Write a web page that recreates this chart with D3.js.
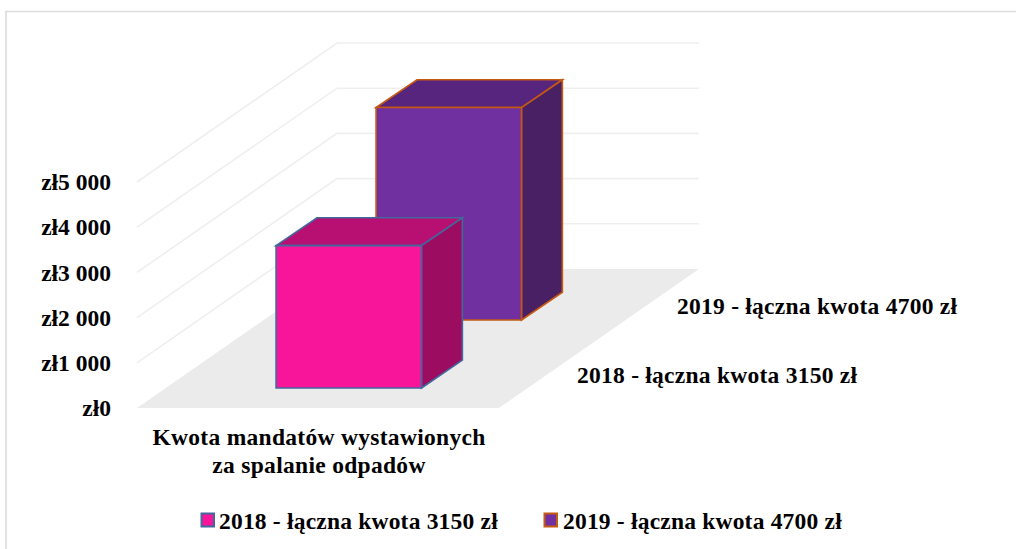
<!DOCTYPE html>
<html><head><meta charset="utf-8">
<script src="https://cdnjs.cloudflare.com/ajax/libs/d3/7.8.5/d3.min.js"></script>
<style>
html,body{margin:0;padding:0;background:#fff}
svg{display:block}
text{font-family:"Liberation Serif",serif;font-weight:700;fill:#000}
</style></head><body>
<svg id="c" width="1016" height="549"></svg>
<script>
const seriesNames = ["2018 - łączna kwota 3150 zł", "2019 - łączna kwota 4700 zł"];
const seriesValues = [3150, 4700];
const categoryLines = ["Kwota mandatów wystawionych", "za spalanie odpadów"];
const yTicks = [0, 1000, 2000, 3000, 4000, 5000];
const fills = ["#F8159A", "#7030A0"];
const topFills = ["#B80F72", "#58257E"];
const sideFills = ["#9C0C60", "#4A2064"];
const strokes = ["#41699E", "#C55A11"];

const svg = d3.select("#c");
const y = d3.scaleLinear().domain([0, 5000]).range([408, 182]);
const x = d3.scaleLinear().domain([0, 1]).range([137, 499]);
const depthX = d3.scaleLinear().domain([0, 1]).range([0, 200]);
const barDepthX = d3.scaleLinear().domain([0, 1]).range([0, 204.5]);
const depthY = d3.scaleLinear().domain([0, 1]).range([0, -139]);
const band = d3.scaleBand().domain(seriesNames).range([0, 0.977]).paddingInner(0.591).paddingOuter(0.2945);
const P = (fx, d, v) => [x(fx) + depthX(d), y(v) + depthY(d)];
const B = (fx, d, v) => [x(fx) + barDepthX(d), y(v) + depthY(d)];
const poly = pts => "M" + pts.map(p => p.join(",")).join("L") + "Z";

// frame: left and top edges only
svg.append("path").attr("d", "M6,549V11.5H1016").attr("fill", "none").attr("stroke", "#DCDCDC").attr("stroke-width", 1.6);

// floor
svg.append("path").attr("d", poly([P(0,0,0),P(1,0,0),P(1,1,0),P(0,1,0)])).attr("fill", "#EBEBEB");

// gridlines
svg.append("g").selectAll("path").data(yTicks.slice(1)).join("path")
  .attr("d", v => "M" + [P(0,0,v),P(0,1,v),P(1,1,v)].map(p => p.join(",")).join("L"))
  .attr("fill", "none").attr("stroke", "#EFEFEF").attr("stroke-width", 1.6);

// boxes, back to front
const x0 = 0.3028, x1 = 0.7045;
[1, 0].forEach(i => {
  const n = seriesNames[i], v = seriesValues[i];
  const d0 = band(n), d1 = d0 + band.bandwidth();
  const g = svg.append("g").attr("stroke", strokes[i]).attr("stroke-width", 1.6).attr("stroke-linejoin", "miter");
  g.append("path").attr("fill", topFills[i]).attr("d", poly([B(x0,d0,v),B(x1,d0,v),B(x1,d1,v),B(x0,d1,v)]));
  g.append("path").attr("fill", sideFills[i]).attr("d", poly([B(x1,d0,0),B(x1,d1,0),B(x1,d1,v),B(x1,d0,v)]));
  g.append("path").attr("fill", fills[i]).attr("d", poly([B(x0,d0,0),B(x1,d0,0),B(x1,d0,v),B(x0,d0,v)]));
});

// y axis
const axis = d3.axisLeft(y).tickValues(yTicks).tickSize(0).tickPadding(0)
  .tickFormat(v => "zł" + (v === 0 ? "0" : d3.format(",")(v).replace(",", " ")));
const ag = svg.append("g").attr("transform", "translate(111,0)").call(axis);
ag.select(".domain").remove();
ag.selectAll("text").attr("font-size", 23.5).attr("font-family", null).style("font-family", '"Liberation Serif",serif').attr("dy", "0.33em");

// category label
svg.append("g").selectAll("text").data(categoryLines).join("text")
  .attr("x", 319).attr("y", (d, i) => 445 + i * 28).attr("text-anchor", "middle")
  .attr("font-size", 23.5).attr("letter-spacing", 0.3).text(d => d);

// series labels on depth axis
const sx = [577, 677], sy = [383, 314];
svg.append("g").selectAll("text").data(seriesNames).join("text")
  .attr("x", (d, i) => sx[i]).attr("y", (d, i) => sy[i])
  .attr("font-size", 23.5).attr("letter-spacing", 0.25).text(d => d);

// legend
const lx = [201.5, 544.5], tx = [219, 563];
const lg = svg.append("g").selectAll("g").data(seriesNames).join("g");
lg.append("rect").attr("x", (d, i) => lx[i]).attr("y", 513.5).attr("width", 12.5).attr("height", 13)
  .attr("fill", (d, i) => fills[i]).attr("stroke", (d, i) => strokes[i]).attr("stroke-width", 2);
lg.append("text").attr("x", (d, i) => tx[i]).attr("y", 529).attr("font-size", 23.5).attr("letter-spacing", 0.2).text(d => d);
</script>
</body></html>
